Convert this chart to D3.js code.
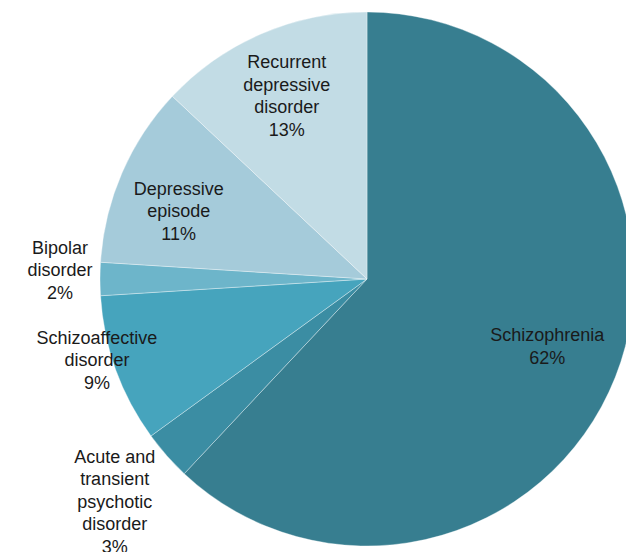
<!DOCTYPE html>
<html>
<head>
<meta charset="utf-8">
<script src="https://cdn.jsdelivr.net/npm/d3@7"></script>
<style>
  body { margin: 0; background: #fff; }
  svg { display: block; }
</style>
</head>
<body>
<div id="chart"></div>
<script>
// slice data, clockwise from 12 o'clock
const labels = [
    ["Schizophrenia"],
    ["Acute and", "transient", "psychotic", "disorder"],
    ["Schizoaffective", "disorder"],
    ["Bipolar", "disorder"],
    ["Depressive", "episode"],
    ["Recurrent", "depressive", "disorder"]
];
const values = [62, 3, 9, 2, 11, 13];
const colors = ["#377e90", "#3b8da3", "#46a4bd", "#6db5ca", "#a5cbda", "#c2dce5"];
// label placement: distance from centre (fraction of radius) and angle shift from slice middle (deg)
const labelRadius = [0.72, 1.26, 1.056, 1.15, 0.75, 0.75];
const labelShift = [-1.2, 0, 3.1, 1.7, -3.5, -0.2];

const W = 626, H = 552;
const cx = 367, cy = 279, r = 267;
const lineH = 22.5;

const svg = d3.select("#chart").append("svg")
    .attr("width", W)
    .attr("height", H);

const g = svg.append("g")
    .attr("transform", "translate(" + cx + "," + cy + ")");

const data = values.map((v, i) => ({ value: v, label: labels[i], i: i }));

const pie = d3.pie()
    .value(d => d.value)
    .sort(null);

const arc = d3.arc()
    .innerRadius(0)
    .outerRadius(r);

const arcs = pie(data);

g.selectAll("path.slice")
    .data(arcs)
    .enter()
    .append("path")
    .attr("class", "slice")
    .attr("d", arc)
    .attr("fill", d => colors[d.data.i])
    .attr("stroke", "#ffffff")
    .attr("stroke-opacity", 0.35)
    .attr("stroke-width", 1);

// labels
arcs.forEach(d => {
    const i = d.data.i;
    const a = (d.startAngle + d.endAngle) / 2 + labelShift[i] * Math.PI / 180;
    const lr = r * labelRadius[i];
    const lx = lr * Math.sin(a);
    const ly = -lr * Math.cos(a);
    const lines = d.data.label.concat([d.data.value + "%"]);
    const y0 = ly - (lines.length - 1) * lineH / 2;
    const t = g.append("text")
        .attr("text-anchor", "middle")
        .attr("font-family", "'Liberation Sans', Arial, sans-serif")
        .attr("font-size", 18)
        .attr("fill", "#1a1a1a");
    lines.forEach((s, k) => {
        t.append("tspan")
            .attr("x", lx)
            .attr("y", y0 + k * lineH)
            .attr("dy", "0.35em")
            .text(s);
    });
});
</script>
</body>
</html>
